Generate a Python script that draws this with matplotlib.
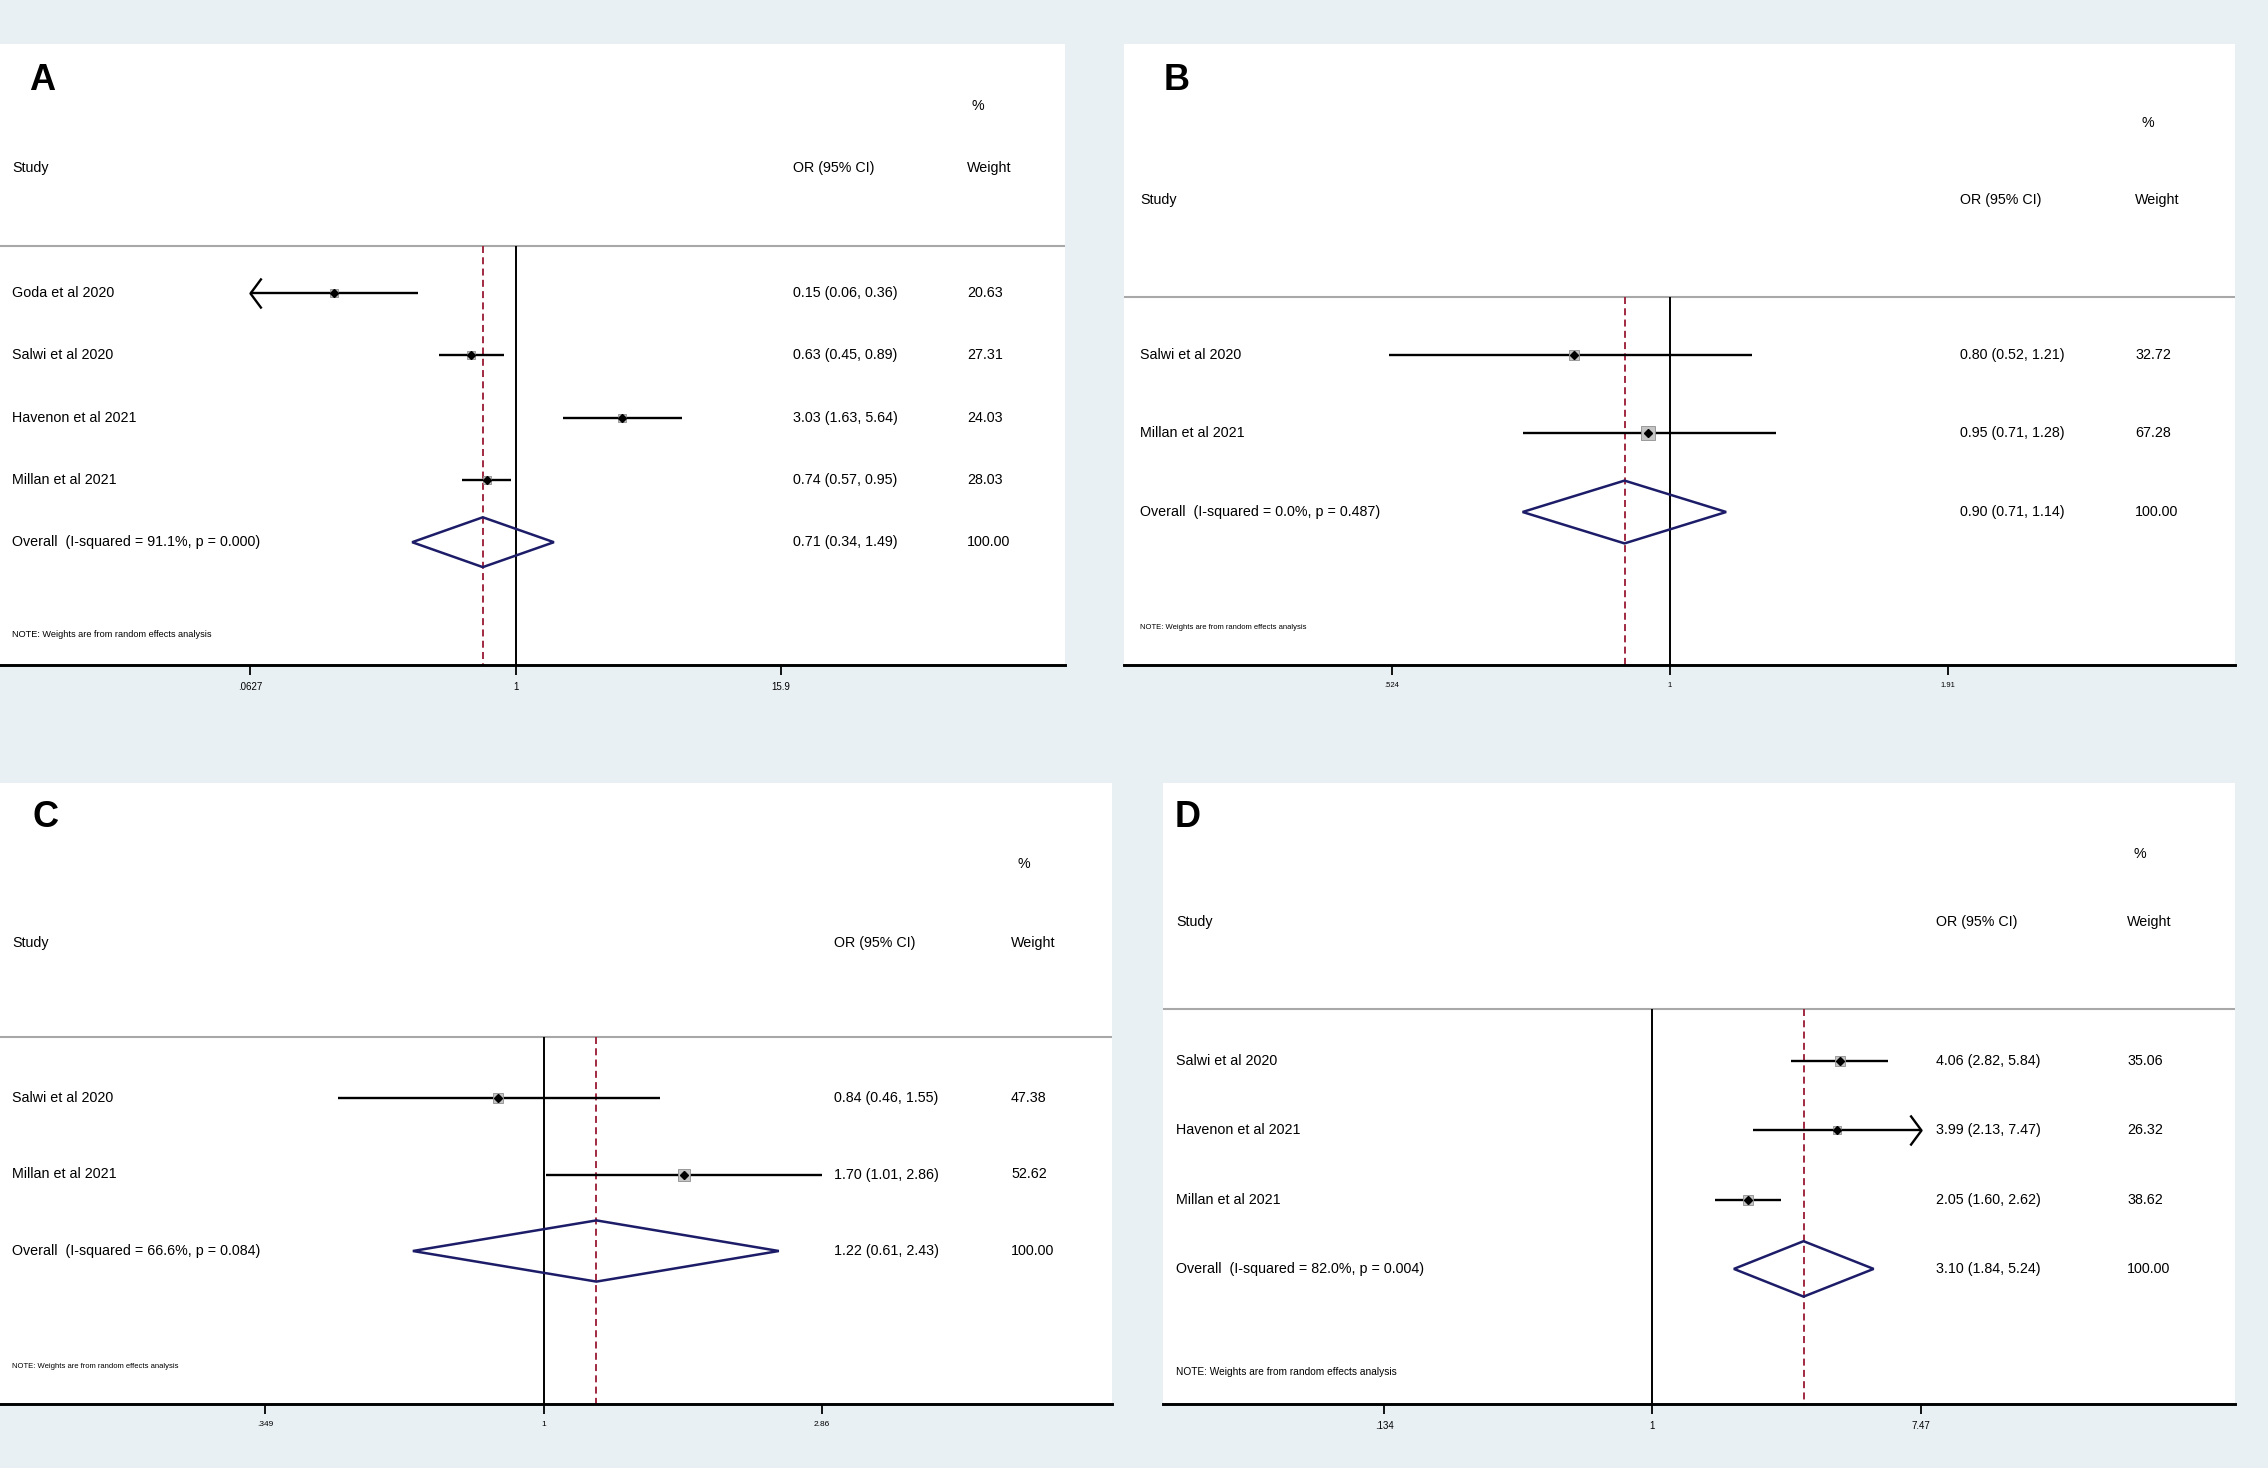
import numpy as np
import matplotlib.pyplot as plt
from matplotlib.path import Path
from matplotlib.patches import Polygon
from matplotlib.transforms import blended_transform_factory
from matplotlib.ticker import FixedLocator, FixedFormatter, NullLocator

plt.rcParams['font.family'] = ['Liberation Sans', 'DejaVu Sans']

W, H = 2268, 1468

# ---- data ----
a_studies = ['Goda et al 2020', 'Salwi et al 2020', 'Havenon et al 2021', 'Millan et al 2021']
a_or = [0.15, 0.63, 3.03, 0.74]
a_lo = [0.06, 0.45, 1.63, 0.57]
a_hi = [0.36, 0.89, 5.64, 0.95]
a_wt = [20.63, 27.31, 24.03, 28.03]
a_clip = ['left', None, None, None]     # CI runs off the axis
a_overall = [0.71, 0.34, 1.49]
a_het = 'I-squared = 91.1%, p = 0.000'
a_ticks = [0.0627, 1, 15.9]
a_ticklabels = ['.0627', '1', '15.9']

b_studies = ['Salwi et al 2020', 'Millan et al 2021']
b_or = [0.80, 0.95]
b_lo = [0.52, 0.71]
b_hi = [1.21, 1.28]
b_wt = [32.72, 67.28]
b_clip = [None, None]
b_overall = [0.90, 0.71, 1.14]
b_het = 'I-squared = 0.0%, p = 0.487'
b_ticks = [0.524, 1, 1.91]
b_ticklabels = ['.524', '1', '1.91']

c_studies = ['Salwi et al 2020', 'Millan et al 2021']
c_or = [0.84, 1.70]
c_lo = [0.46, 1.01]
c_hi = [1.55, 2.86]
c_wt = [47.38, 52.62]
c_clip = [None, None]
c_overall = [1.22, 0.61, 2.43]
c_het = 'I-squared = 66.6%, p = 0.084'
c_ticks = [0.349, 1, 2.86]
c_ticklabels = ['.349', '1', '2.86']

d_studies = ['Salwi et al 2020', 'Havenon et al 2021', 'Millan et al 2021']
d_or = [4.06, 3.99, 2.05]
d_lo = [2.82, 2.13, 1.60]
d_hi = [5.84, 7.47, 2.62]
d_wt = [35.06, 26.32, 38.62]
d_clip = [None, 'right', None]
d_overall = [3.10, 1.84, 5.24]
d_het = 'I-squared = 82.0%, p = 0.004'
d_ticks = [0.134, 1, 7.47]
d_ticklabels = ['.134', '1', '7.47']

# ---- layout, in pixels of the 2268x1468 picture ----
layouts = {
    'A': dict(box=(0, 44, 1065, 665), tick_px=(250, 781), row0=293, step=62.3,
              head_line=246, head_y=168, pct_y=106, note_y=635,
              x_study=12, x_or=793, x_wt=967, x_pct=971, letter=(29, 81),
              note_fs=6.6, tick_fs=7),
    'B': dict(box=(1124, 44, 2235, 665), tick_px=(1392, 1948), row0=355, step=78.5,
              head_line=297, head_y=200, pct_y=123, note_y=628,
              x_study=1140, x_or=1960, x_wt=2135, x_pct=2141, letter=(1164, 81),
              note_fs=5.5, tick_fs=5.5),
    'C': dict(box=(0, 783, 1112, 1404), tick_px=(265, 822), row0=1098, step=76.5,
              head_line=1037, head_y=943, pct_y=864, note_y=1367,
              x_study=12, x_or=834, x_wt=1011, x_pct=1018, letter=(32, 818),
              note_fs=5.5, tick_fs=6),
    'D': dict(box=(1163, 783, 2235, 1404), tick_px=(1384, 1921), row0=1061, step=69.3,
              head_line=1009, head_y=922, pct_y=854, note_y=1372,
              x_study=1176, x_or=1936, x_wt=2127, x_pct=2133, letter=(1175, 818),
              note_fs=7.3, tick_fs=7),
}

BG = '#e9f0f3'
NAVY = '#1c1c68'
RED = '#a02a40'
FS = 10.3

left_arrow = Path([(1, 1.35), (0, 0), (1, -1.35)], [Path.MOVETO, Path.LINETO, Path.LINETO])
right_arrow = Path([(-1, 1.35), (0, 0), (-1, -1.35)], [Path.MOVETO, Path.LINETO, Path.LINETO])


def forest(fig, name, studies, ors, los, his, wts, clip, overall, het, ticks, ticklabels):
    L = layouts[name]
    x0, y0, x1, y1 = L['box']
    ax = fig.add_axes([x0 / W, 1 - y1 / H, (x1 - x0) / W, (y1 - y0) / H])
    ax.set_facecolor('white')

    # x: log scale calibrated on the outer ticks
    p0, p1 = L['tick_px']
    k = (np.log(ticks[-1]) - np.log(ticks[0])) / (p1 - p0)
    ax.set_xscale('log')
    ax.set_xlim(np.exp(np.log(ticks[0]) + (x0 - p0) * k),
                np.exp(np.log(ticks[0]) + (x1 - p0) * k))

    # y: one unit per row, first study at 0
    def py(p):
        return (p - L['row0']) / L['step']
    ax.set_ylim(py(y1), py(y0))

    def fx(p):
        return (p - x0) / (x1 - x0)
    tr = blended_transform_factory(ax.transAxes, ax.transData)

    yh = py(L['head_line'])
    ybot = py(y1)
    ax.axhline(yh, color='#a8a8a8', lw=1.5, zorder=1)
    ax.vlines(1, yh, ybot, color='black', lw=1.4, zorder=2)
    ax.vlines(overall[0], yh, ybot, color=RED, lw=1.4,
              linestyle=(0, (3.6, 2.2)), zorder=2)

    n = len(studies)
    for i in range(n):
        lo, hi = los[i], his[i]
        if clip[i] == 'left':
            lo = ticks[0]
        if clip[i] == 'right':
            hi = ticks[-1]
        ax.plot([lo, hi], [i, i], color='black', lw=1.7, zorder=3,
                solid_capstyle='butt')
        if clip[i] == 'left':
            ax.plot(lo, i, marker=left_arrow, ms=21.6, mfc='none', mec='black',
                    mew=1.7, zorder=3)
        if clip[i] == 'right':
            ax.plot(hi, i, marker=right_arrow, ms=21.6, mfc='none', mec='black',
                    mew=1.7, zorder=3)
        ax.plot(ors[i], i, marker='s', ms=1.15 * np.sqrt(wts[i]), mfc='#c4c4c4',
                mec='#8e8e8e', mew=0.6, zorder=4)
        ax.plot(ors[i], i, marker='D', ms=4.4, color='black', zorder=5)
        ax.text(fx(L['x_study']), i, studies[i], transform=tr, va='center',
                ha='left', fontsize=FS)
        ax.text(fx(L['x_or']), i, f'{ors[i]:.2f} ({los[i]:.2f}, {his[i]:.2f})',
                transform=tr, va='center', ha='left', fontsize=FS)
        ax.text(fx(L['x_wt']), i, f'{wts[i]:.2f}', transform=tr, va='center',
                ha='left', fontsize=FS)

    est, lo, hi = overall
    dia = Polygon([(lo, n), (est, n - 0.4), (hi, n), (est, n + 0.4)], closed=True,
                  facecolor='none', edgecolor=NAVY, lw=1.8, zorder=4)
    ax.add_patch(dia)
    ax.text(fx(L['x_study']), n, f'Overall  ({het})', transform=tr, va='center',
            ha='left', fontsize=FS)
    ax.text(fx(L['x_or']), n, f'{est:.2f} ({lo:.2f}, {hi:.2f})', transform=tr,
            va='center', ha='left', fontsize=FS)
    ax.text(fx(L['x_wt']), n, '100.00', transform=tr, va='center', ha='left',
            fontsize=FS)

    # header
    ax.text(fx(L['x_study']), py(L['head_y']), 'Study', transform=tr, va='center',
            ha='left', fontsize=FS)
    ax.text(fx(L['x_or']), py(L['head_y']), 'OR (95% CI)', transform=tr,
            va='center', ha='left', fontsize=FS)
    ax.text(fx(L['x_wt']), py(L['head_y']), 'Weight', transform=tr, va='center',
            ha='left', fontsize=FS)
    ax.text(fx(L['x_pct']), py(L['pct_y']), '%', transform=tr, va='center',
            ha='left', fontsize=FS)
    ax.text(fx(L['x_study']), py(L['note_y']), 'NOTE: Weights are from random effects analysis',
            transform=tr, va='center', ha='left', fontsize=L['note_fs'])

    # axis
    for s in ['left', 'right', 'top']:
        ax.spines[s].set_visible(False)
    ax.spines['bottom'].set_color('black')
    ax.spines['bottom'].set_linewidth(2.1)
    ax.xaxis.set_major_locator(FixedLocator(ticks))
    ax.xaxis.set_major_formatter(FixedFormatter(ticklabels))
    ax.xaxis.set_minor_locator(NullLocator())
    ax.tick_params(axis='x', length=7, width=1.3, pad=5, labelsize=L['tick_fs'],
                   color='black')
    ax.set_yticks([])

    lx, ly = L['letter']
    fig.text(lx / W, 1 - ly / H, name, fontsize=26, fontweight='bold',
             ha='left', va='center')
    return ax


fig = plt.figure(figsize=(W / 100, H / 100), dpi=100, facecolor=BG)
forest(fig, 'A', a_studies, a_or, a_lo, a_hi, a_wt, a_clip, a_overall, a_het, a_ticks, a_ticklabels)
forest(fig, 'B', b_studies, b_or, b_lo, b_hi, b_wt, b_clip, b_overall, b_het, b_ticks, b_ticklabels)
forest(fig, 'C', c_studies, c_or, c_lo, c_hi, c_wt, c_clip, c_overall, c_het, c_ticks, c_ticklabels)
forest(fig, 'D', d_studies, d_or, d_lo, d_hi, d_wt, d_clip, d_overall, d_het, d_ticks, d_ticklabels)

fig.savefig('out.png', dpi=100, facecolor=BG)
